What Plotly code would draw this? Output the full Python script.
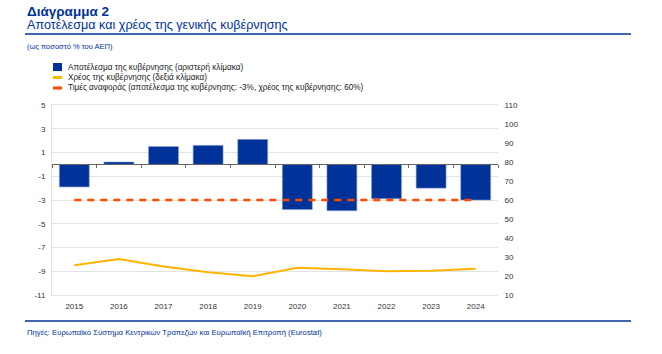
import plotly.graph_objects as go

years = ["2015", "2016", "2017", "2018", "2019", "2020", "2021", "2022", "2023", "2024"]
balance = [-1.9, 0.2, 1.5, 1.6, 2.1, -3.8, -3.9, -2.9, -2.0, -3.0]
debt = [25.6, 28.9, 25.0, 22.0, 19.9, 24.3, 23.5, 22.5, 22.7, 23.8]
ref_balance = [-3] * len(years)

left_ticks = [5, 3, 1, -1, -3, -5, -7, -9, -11]
left_tick_labels = ["5", "3", "1", "-1", "-3", "-5", "-7", "-9", "-11"]
right_ticks = [110, 100, 90, 80, 70, 60, 50, 40, 30, 20, 10]

legend_labels = [
    "Αποτέλεσμα της κυβέρνησης (αριστερή κλίμακα)",
    "Χρέος της κυβέρνησης (δεξιά κλίμακα)",
    "Τιμές αναφοράς (αποτέλεσμα της κυβέρνησης: -3%, χρέος της κυβέρνησης: 60%)",
]

BLUE = "#003299"
YELLOW = "#FFB400"
ORANGE = "#FF4B00"
GRID = "#e3e3e3"
FONT = "Liberation Sans, Arial, sans-serif"

W, H = 662, 354
L, R, T, B = 52, 164, 105, 59
PW, PH = W - L - R, H - T - B


def px(x):
    return (x - L) / PW


def py(y):
    return (H - B - y) / PH


fig = go.Figure()
fig.add_trace(go.Bar(x=years, y=balance, marker=dict(color=BLUE, line=dict(color="#7f98cc", width=0.6)),
                     width=0.67, name=legend_labels[0], xaxis="x", yaxis="y"))
fig.add_trace(go.Scatter(x=years, y=ref_balance, mode="lines", line=dict(color=ORANGE, width=2.5, dash="7px,6px"),
                         name=legend_labels[2], xaxis="x", yaxis="y"))
fig.add_trace(go.Scatter(x=years, y=debt, mode="lines", line=dict(color=YELLOW, width=2),
                         name=legend_labels[1], xaxis="x", yaxis="y2"))
# invisible trace to activate the zero-line axis with boundary ticks
fig.add_trace(go.Scatter(x=years, y=[None] * len(years), mode="lines", xaxis="x2", yaxis="y", showlegend=False,
                         hoverinfo="skip"))

fig.update_layout(
    width=W, height=H, margin=dict(l=L, r=R, t=T, b=B),
    paper_bgcolor="white", plot_bgcolor="white",
    showlegend=False,
    font=dict(family=FONT, size=8, color="#333333"),
    xaxis=dict(type="category", showgrid=False, showline=True, linecolor=GRID, linewidth=1, mirror=True,
               ticks="", tickfont=dict(size=8, color="#333333"), ticklabelstandoff=3),
    xaxis2=dict(type="category", overlaying="x", anchor="free", position=11 / 16, showgrid=False,
                showline=True, linecolor="#666666", linewidth=1.2, ticks="outside", ticklen=3, tickwidth=1,
                tickcolor="#666666", tickson="boundaries", showticklabels=False, matches="x"),
    yaxis=dict(range=[-11, 5], tickvals=left_ticks, ticktext=left_tick_labels, showgrid=True, gridcolor=GRID,
               gridwidth=1, zeroline=False, showline=True, linecolor=GRID, ticks="outside", ticklen=4,
               tickcolor="rgba(0,0,0,0)", tickfont=dict(size=8, color="#333333")),
    yaxis2=dict(range=[10, 110], tickvals=right_ticks, overlaying="y", side="right", showgrid=False,
                zeroline=False, showline=False, ticks="outside", ticklen=4, tickcolor="rgba(0,0,0,0)",
                tickfont=dict(size=8, color="#333333")),
    bargap=0.33,
)

ann = []
ann.append(dict(text="<b>Διάγραμμα 2</b>", x=px(25), y=py(2), xanchor="left", yanchor="top",
                font=dict(size=13.5, color=BLUE, family=FONT)))
ann.append(dict(text="Αποτέλεσμα και χρέος της γενικής κυβέρνησης", x=px(25), y=py(16), xanchor="left",
                yanchor="top", font=dict(size=12.6, color=BLUE, family=FONT)))
ann.append(dict(text="(ως ποσοστό % του ΑΕΠ)", x=px(25), y=py(47), xanchor="left", yanchor="middle",
                font=dict(size=7.5, color=BLUE, family=FONT)))
ann.append(dict(text="Πηγές: Ευρωπαϊκό Σύστημα Κεντρικών Τραπεζών και Ευρωπαϊκή Επιτροπή (Eurostat)",
                x=px(25), y=py(332), xanchor="left", yanchor="middle",
                font=dict(size=7.7, color=BLUE, family=FONT)))

row_y = [67, 77.5, 88]
for lbl, yy in zip(legend_labels, row_y):
    ann.append(dict(text=lbl, x=px(66), y=py(yy), xanchor="left", yanchor="middle",
                    font=dict(size=8.2, color="#222222", family=FONT)))
for a in ann:
    a.update(xref="paper", yref="paper", showarrow=False)

shapes = [
    dict(type="line", xref="paper", yref="paper", x0=px(25), x1=px(631), y0=py(34), y1=py(34),
         line=dict(color=BLUE, width=1.5)),
    dict(type="line", xref="paper", yref="paper", x0=px(25), x1=px(631), y0=py(321), y1=py(321),
         line=dict(color=BLUE, width=1.5)),
    dict(type="rect", xref="paper", yref="paper", x0=px(53), x1=px(62), y0=py(71), y1=py(63),
         fillcolor=BLUE, line=dict(width=0)),
    dict(type="line", xref="paper", yref="paper", x0=px(53), x1=px(62), y0=py(row_y[1]), y1=py(row_y[1]),
         line=dict(color=YELLOW, width=3)),
    dict(type="line", xref="paper", yref="paper", x0=px(53), x1=px(62), y0=py(row_y[2]), y1=py(row_y[2]),
         line=dict(color=ORANGE, width=3)),
]
fig.update_layout(annotations=ann, shapes=shapes)

fig.write_html("out.html")
